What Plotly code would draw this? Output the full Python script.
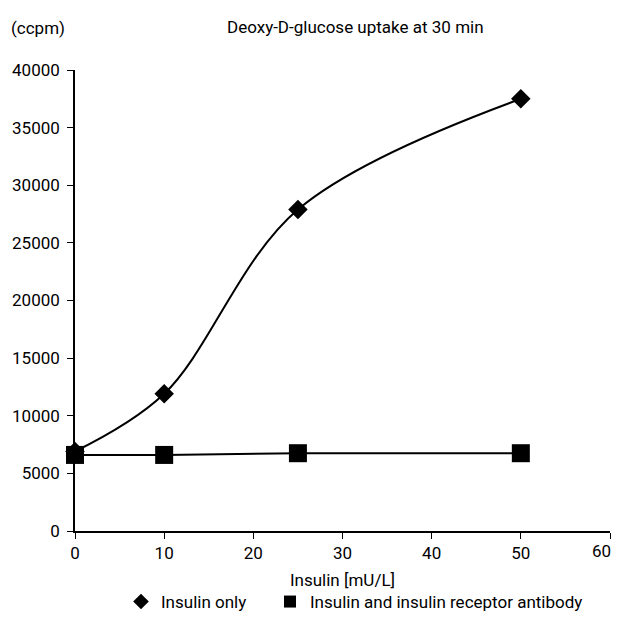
import plotly.graph_objects as go

insulin = [0, 10, 25, 50]
insulin_only = [6900, 11900, 27900, 37500]
with_antibody = [6600, 6600, 6750, 6750]
x_ticks = [0, 10, 20, 30, 40, 50, 60]
x_tick_labels = ["0", "10", "20", "30", "40", "50", ""]  # last label drawn as annotation
y_ticks = [0, 5000, 10000, 15000, 20000, 25000, 30000, 35000, 40000]
y_tick_labels = [str(v) for v in y_ticks]

FONT = "Roboto, Liberation Sans, Arial, sans-serif"
FS = 17

fig = go.Figure()
fig.add_trace(go.Scatter(
    x=insulin, y=insulin_only, mode="lines", showlegend=False,
    line=dict(color="black", width=2, shape="spline", smoothing=1.0),
    cliponaxis=False,
))
fig.add_trace(go.Scatter(
    x=insulin, y=with_antibody, mode="lines", showlegend=False,
    line=dict(color="black", width=2, shape="spline", smoothing=1.0),
    cliponaxis=False,
))
fig.add_trace(go.Scatter(
    x=insulin, y=insulin_only, mode="markers", name="Insulin only",
    marker=dict(symbol="diamond", size=15, color="black"),
    cliponaxis=False, legend="legend",
))
fig.add_trace(go.Scatter(
    x=insulin, y=with_antibody, mode="markers",
    name="Insulin and insulin receptor antibody",
    marker=dict(symbol="square", size=18, color="black"),
    cliponaxis=False, legend="legend2",
))

leg_common = dict(orientation="h", xanchor="left", y=-(584 - 531) / 461, yanchor="top",
                  itemsizing="constant", font=dict(size=FS), itemwidth=30,
                  bgcolor="rgba(0,0,0,0)")

fig.update_layout(
    width=613, height=619,
    margin=dict(l=67, r=11, t=62, b=96, autoexpand=False),
    paper_bgcolor="white", plot_bgcolor="white",
    font=dict(family=FONT, size=FS, color="black"),
    showlegend=True,
    legend=dict(x=(121 - 75) / 535, **leg_common),
    legend2=dict(x=(270 - 75) / 535, **leg_common),
    xaxis=dict(range=[0, 60], tickvals=x_ticks, ticktext=x_tick_labels,
               ticks="outside", ticklen=6,
               tickcolor="black", showline=True, linecolor="black", linewidth=1.5,
               showgrid=False, zeroline=False, automargin=False,
               ticklabeloverflow="allow",
               title=dict(text="Insulin [mU/L]", font=dict(size=FS), standoff=12)),
    yaxis=dict(range=[0, 40000], tickvals=y_ticks, ticktext=y_tick_labels,
               ticks="outside", ticklen=6,
               tickcolor="black", showline=True, linecolor="black", linewidth=1.5,
               showgrid=False, zeroline=False, ticklabelstandoff=4, automargin=False),
    annotations=[
        dict(text="Deoxy-D-glucose uptake at 30 min", xref="paper", yref="paper",
             x=(355 - 75) / 535, y=1 + (70 - 27) / 461, xanchor="center", yanchor="middle",
             showarrow=False, font=dict(size=FS)),
        dict(text="(ccpm)", xref="paper", yref="paper",
             x=(38 - 75) / 535, y=1 + (70 - 28) / 461, xanchor="center", yanchor="middle",
             showarrow=False, font=dict(size=FS)),
        dict(text=str(x_ticks[-1]), xref="x", yref="paper", x=x_ticks[-1], y=0,
             xanchor="right", yanchor="middle", xshift=3, yshift=-20,
             showarrow=False, font=dict(size=FS)),
    ],
)

fig.write_html("out.html")
